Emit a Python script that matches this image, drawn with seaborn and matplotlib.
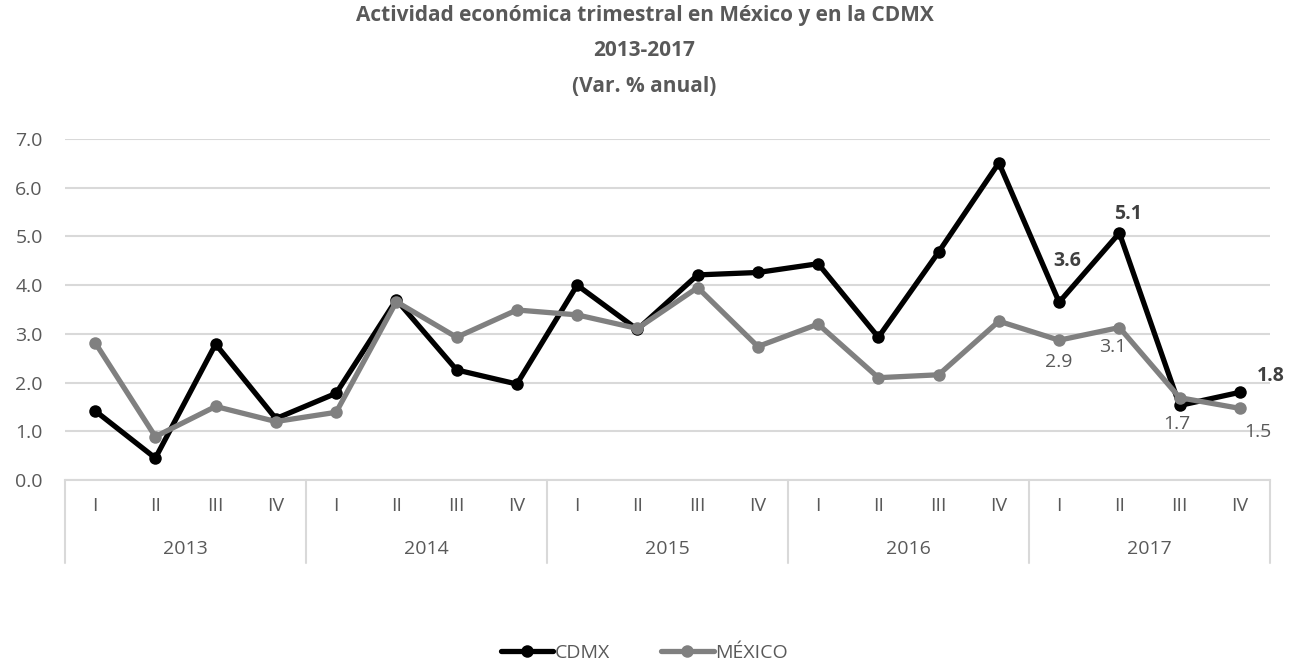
import pandas as pd
import matplotlib.pyplot as plt
from matplotlib.lines import Line2D
import seaborn as sns

years = ["2013", "2014", "2015", "2016", "2017"]
quarters = ["I", "II", "III", "IV"]
cdmx = [1.42, 0.45, 2.79, 1.26, 1.78, 3.70, 2.26, 1.97, 4.00, 3.09,
        4.21, 4.26, 4.44, 2.93, 4.68, 6.51, 3.65, 5.07, 1.53, 1.80]
mexico = [2.82, 0.89, 1.51, 1.20, 1.39, 3.66, 2.93, 3.49, 3.39, 3.11,
          3.95, 2.74, 3.20, 2.10, 2.16, 3.26, 2.87, 3.13, 1.69, 1.47]
labels_cdmx = {16: "3.6", 17: "5.1", 19: "1.8"}
labels_mexico = {16: "2.9", 17: "3.1", 18: "1.7", 19: "1.5"}

n = len(cdmx)
df = pd.DataFrame({
    "t": list(range(n)) * 2,
    "valor": cdmx + mexico,
    "serie": ["CDMX"] * n + ["MÉXICO"] * n,
})

sns.set_theme(style="white")
plt.rcParams["font.family"] = ["Open Sans", "DejaVu Sans"]

text_col = "#595959"
grid_col = "#d9d9d9"
colors = {"CDMX": "#000000", "MÉXICO": "#808080"}
fs = 14

fig = plt.figure(figsize=(12.89, 6.65), dpi=100)
ax = fig.add_axes([65 / 1289, 1 - 480 / 665, (1270 - 65) / 1289, (480 - 139) / 665])

sns.lineplot(data=df, x="t", y="valor", hue="serie", palette=colors,
             marker="o", markersize=9, markeredgewidth=0, linewidth=3.8,
             legend=False, ax=ax, zorder=3)

ax.set_xlim(-0.5, n - 0.5)
ax.set_ylim(0, 7)
ax.set_yticks(range(8))
ax.set_yticklabels([f"{v:.1f}" for v in range(8)], color=text_col, fontsize=fs)
ax.yaxis.grid(True, color=grid_col, linewidth=1.5)
ax.set_axisbelow(True)
for s in ["top", "right", "left"]:
    ax.spines[s].set_visible(False)
ax.spines["bottom"].set_color(grid_col)
ax.spines["bottom"].set_linewidth(1.5)
ax.tick_params(axis="both", length=0)
ax.tick_params(axis="y", pad=16)
ax.set_xlabel("")
ax.set_ylabel("")

# two-level category axis
ax.set_xticks(range(n))
ax.set_xticklabels(quarters * len(years), color=text_col, fontsize=fs)
ax.tick_params(axis="x", pad=12)
trans = ax.get_xaxis_transform()
depth = (563 - 480) / (480 - 139)
for i in range(len(years) + 1):
    ax.add_line(Line2D([i * 4 - 0.5, i * 4 - 0.5], [0, -depth], transform=trans,
                       color=grid_col, linewidth=1.5, clip_on=False))
for i, y in enumerate(years):
    ax.text(i * 4 + 1.5, -(549 - 480) / (480 - 139), y, transform=trans,
            ha="center", va="center", color=text_col, fontsize=fs)

# data labels
for i, lab in labels_cdmx.items():
    off = {16: (6, 30), 17: (6, 14), 19: (22, 12)}[i]
    ax.annotate(lab, (i, cdmx[i]), xytext=off, textcoords="offset points",
                ha="center", va="center", fontsize=fs, fontweight="bold", color="#404040")
for i, lab in labels_mexico.items():
    off = {16: (0, -16), 17: (-5, -14), 18: (-2, -19), 19: (13, -17)}[i]
    ax.annotate(lab, (i, mexico[i]), xytext=off, textcoords="offset points",
                ha="center", va="center", fontsize=fs, color=text_col)

title_lines = ["Actividad económica trimestral en México y en la CDMX",
               "2013-2017", "(Var. % anual)"]
for ypx, line in zip([16, 51, 86], title_lines):
    fig.text(0.5, 1 - ypx / 665, line, ha="center", va="center",
             fontsize=15, fontweight="bold", color=text_col)

handles = [Line2D([], [], color=colors[k], linewidth=3.8, marker="o", markersize=9,
                  markeredgewidth=0) for k in colors]
fig.legend(handles, list(colors), loc="center", bbox_to_anchor=(0.5, 1 - 653 / 665),
           ncol=2, frameon=False, fontsize=fs, labelcolor=text_col,
           handlelength=2.7, handletextpad=0.1, columnspacing=2.6)

plt.savefig("out.png", dpi=100)
